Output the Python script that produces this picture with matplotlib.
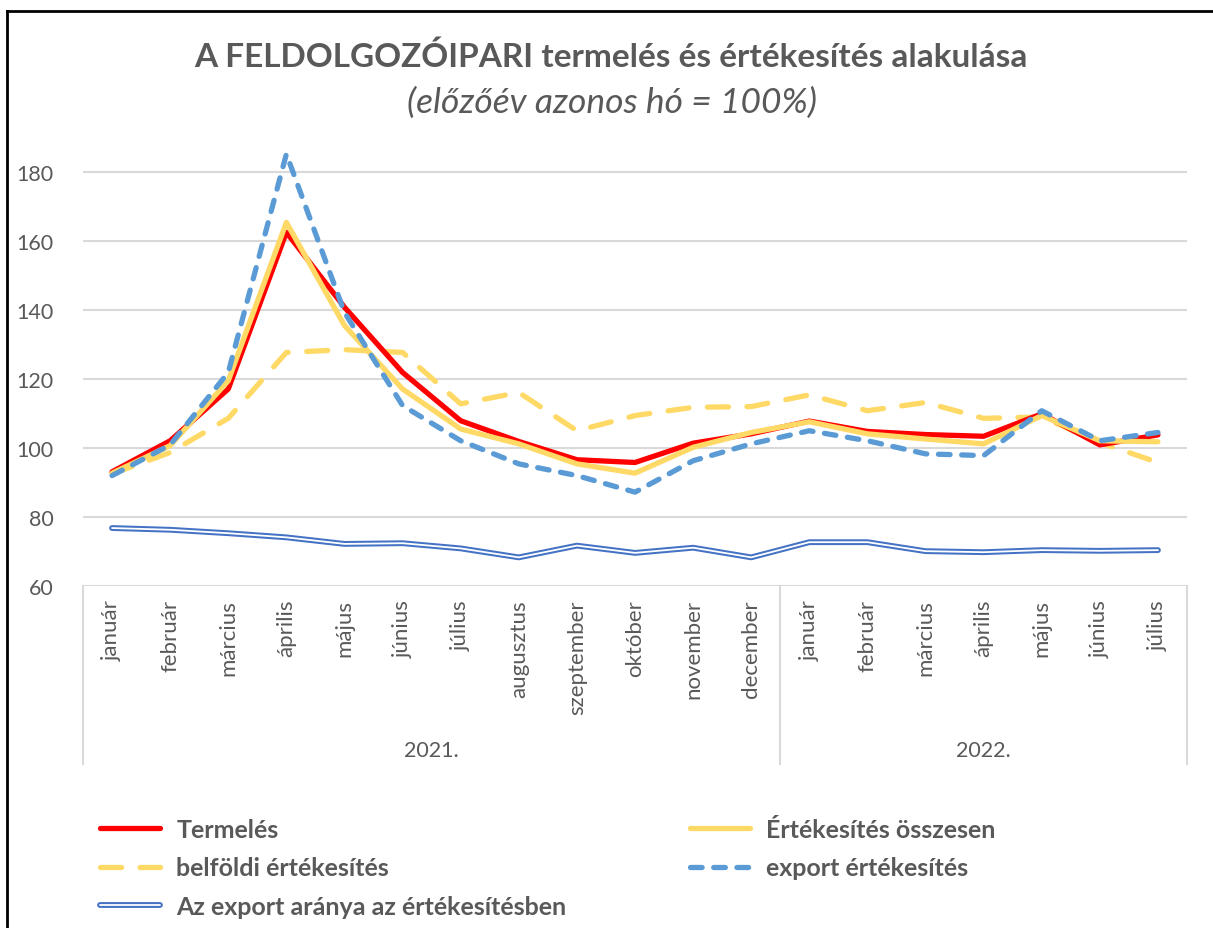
import numpy as np
import matplotlib
matplotlib.use("Agg")
import matplotlib.pyplot as plt
import matplotlib.patheffects as pe
from matplotlib.lines import Line2D

plt.rcParams['font.family'] = ['Lato', 'DejaVu Sans']

# adatok
honapok = ['január', 'február', 'március', 'április', 'május', 'június', 'július',
           'augusztus', 'szeptember', 'október', 'november', 'december',
           'január', 'február', 'március', 'április', 'május', 'június', 'július']
evek = ['2021.', '2022.']
honap_per_ev = [12, 7]

termeles = [93.1, 102.1, 117.1, 162.5, 140.8, 121.9, 107.9, 101.9, 96.6, 95.8, 101.4, 104.1,
            107.8, 104.8, 103.9, 103.4, 109.9, 100.9, 103.8]
ert_osszesen = [92.7, 100.7, 119.5, 165.4, 135.5, 117.1, 105.5, 101.2, 95.4, 92.7, 100.2, 104.5,
                107.6, 104.1, 102.6, 101.2, 109.4, 102.1, 101.8]
belfoldi = [92.5, 98.7, 108.6, 127.7, 128.5, 127.7, 112.8, 116.1, 105.0, 109.4, 111.8, 112.0,
            115.4, 110.8, 113.2, 108.6, 109.0, 101.6, 95.8]
export = [92.0, 100.9, 121.9, 185.2, 139.3, 112.3, 102.1, 95.4, 92.0, 87.2, 96.3, 101.2,
          105.0, 102.1, 98.3, 97.8, 110.8, 102.1, 104.5]
export_arany = [76.8, 76.3, 75.3, 74.1, 72.2, 72.4, 70.9, 68.3, 71.7, 69.6, 71.1, 68.3,
                72.7, 72.7, 70.1, 69.8, 70.4, 70.2, 70.4]

szurke = '#595959'
W, H = 1213, 929
fig = plt.figure(figsize=(W / 100, H / 100), dpi=100)

bal, jobb, also = 83 / W, 1187 / W, 1 - 587 / H
ymin, ymax = 60, 187
tengely_px = (ymax - ymin) * 3.45
felso = 1 - (587 - tengely_px) / H
ax = fig.add_axes([bal, also, jobb - bal, felso - also])

x = np.arange(len(honapok))
ax.set_xlim(-0.5, len(honapok) - 0.5)
ax.set_ylim(ymin, ymax)

for v in range(60, 181, 20):
    ax.axhline(v, color='#D9D9D9', lw=1.5, zorder=0)

l_arany, = ax.plot(x, export_arany, color='white', lw=1.3, solid_capstyle='round',
                   label='Az export aránya az értékesítésben',
                   path_effects=[pe.Stroke(linewidth=4.2, foreground='#4472C4', capstyle='round'), pe.Normal()])
l_belf, = ax.plot(x, belfoldi, color='#FFD966', lw=3.8, dashes=(4, 3.5), dash_capstyle='round',
                  label='belföldi értékesítés')
l_term, = ax.plot(x, termeles, color='#FF0000', lw=3.8, solid_capstyle='round', label='Termelés')
l_ossz, = ax.plot(x, ert_osszesen, color='#FFD966', lw=3.8, solid_capstyle='round',
                  label='Értékesítés összesen')
l_exp, = ax.plot(x, export, color='#5B9BD5', lw=3.8, dashes=(2.2, 2.2), dash_capstyle='round',
                 label='export értékesítés', clip_on=False)

for s in ax.spines.values():
    s.set_visible(False)
ax.set_yticks(range(60, 181, 20))
ax.tick_params(axis='y', length=0, labelsize=15.5, labelcolor=szurke, pad=21)
ax.set_xticks([])

# honapok
for i, h in enumerate(honapok):
    ax.text(i, -13 / tengely_px, h, transform=ax.get_xaxis_transform(), rotation=90,
            ha='center', va='top', fontsize=16, color=szurke)

# evek es elvalaszto vonalak
hatar = np.concatenate([[0], np.cumsum(honap_per_ev)]) - 0.5
for b in hatar:
    ax.plot([b, b], [0, -(765 - 587) / tengely_px], transform=ax.get_xaxis_transform(),
            color='#D9D9D9', lw=1.5, clip_on=False)
for i, ev in enumerate(evek):
    ax.text((hatar[i] + hatar[i + 1]) / 2, -(751 - 587) / tengely_px, ev,
            transform=ax.get_xaxis_transform(), ha='center', va='center', fontsize=15.5, color=szurke)

fig.text(611 / W, 1 - 57 / H, 'A FELDOLGOZÓIPARI termelés és értékesítés alakulása',
         ha='center', va='center', fontsize=24, fontweight='bold', color=szurke)
fig.text(612 / W, 1 - 103 / H, '(előzőév azonos hó = 100%)', ha='center', va='center',
         fontsize=25.5, style='italic', color=szurke)

leg_kw = dict(frameon=False, handlelength=2.4, handletextpad=0.65, labelspacing=0.62,
              prop={'weight': 'bold', 'size': 18}, labelcolor=szurke, borderaxespad=0, borderpad=0)
leg1 = fig.legend([l_term, l_belf, l_arany],
                  ['Termelés', 'belföldi értékesítés', 'Az export aránya az értékesítésben'],
                  loc='upper left', bbox_to_anchor=(100 / W, 1 - 819 / H), **leg_kw)
leg2 = fig.legend([l_ossz, l_exp], ['Értékesítés összesen', 'export értékesítés'],
                  loc='upper left', bbox_to_anchor=(690 / W, 1 - 819 / H), **leg_kw)

# keret
fig.add_artist(Line2D([7 / W, 1], [1 - 12 / H, 1 - 12 / H], color='black', lw=2))
fig.add_artist(Line2D([7 / W, 7 / W], [0, 1 - 12 / H], color='black', lw=2))

fig.savefig('out.png', dpi=100)
